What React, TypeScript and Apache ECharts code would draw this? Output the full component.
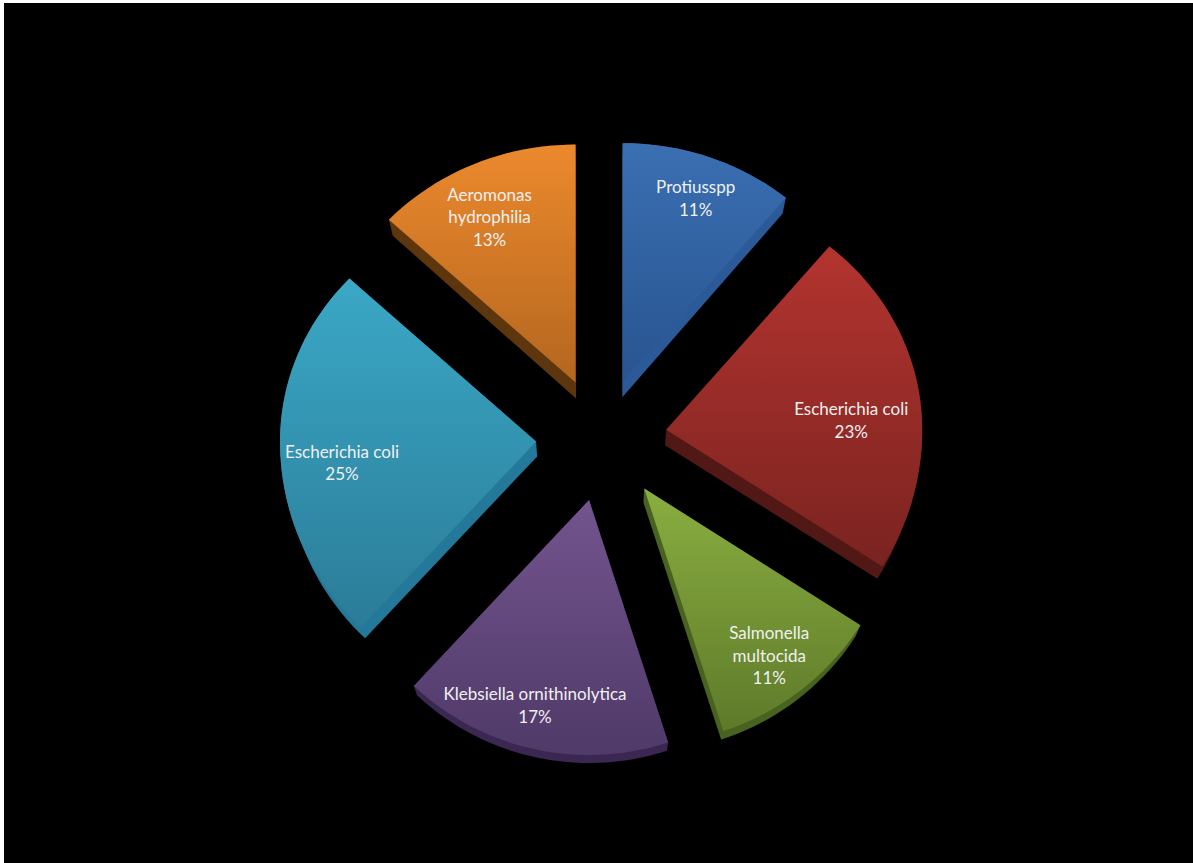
import React, { useEffect, useRef } from "react";
import * as echarts from "echarts";

// Species share of isolates, clockwise from twelve o'clock.
const categories = [
  "Protiusspp",
  "Escherichia coli",
  "Salmonella\nmultocida",
  "Klebsiella ornithinolytica",
  "Escherichia coli",
  "Aeromonas\nhydrophilia",
];
const shares = [11, 23, 11, 17, 25, 13];

// Face gradient (top, bottom) and side wall colour of each slice.
const faceTop = ["#3a6fb2", "#b3342f", "#8aae40", "#73548e", "#3aa8c6", "#ec892d"];
const faceBottom = ["#295490", "#7a2320", "#5e7a2a", "#4f3a68", "#2b7c98", "#b4661f"];
const wallColors = ["#2c5a98", "#521816", "#48621f", "#3a2752", "#24789a", "#5e360e"];

// Extra sideways pull of each slice beyond the common explosion.
const sliceShiftX = [0, 2, 4, 2, -1, 0];

// Centre of each label, measured from the slice's tip.
const labelOffsetX = [73, 185, 125, -54, -194, -86];
const labelOffsetY = [-183, -10, 167, 205, 21, -166];

// Pie projection: a tilted disc seen in perspective, with each slice pulled out along its bisector.
const CX = 601;
const CY = 439.5;
const EXPLODE_X = 64;
const EXPLODE_Y = 62;
const RX = 256;
const RY_FAR = 238;
const RY_NEAR = 255;
const ARC_STEP = 2;

type Pt = [number, number];

const total = shares.reduce((a, b) => a + b, 0);
const startFractions = shares.map((_, i) => shares.slice(0, i).reduce((a, b) => a + b, 0) / total);

const ryAt = (angle: number) => (Math.cos(angle) >= 0 ? RY_FAR : RY_NEAR);

// Thickness shrinks towards the viewer's side of the disc; walls lean slightly to the centre.
const extrude = ([x, y]: Pt): Pt => {
  const depth = y <= 400 ? 16 : 16 - (y - 400) * 0.0224;
  return [x + (CX - x) * 0.018, y + depth];
};

const convexHull = (points: Pt[]): Pt[] => {
  const sorted = [...points].sort((a, b) => a[0] - b[0] || a[1] - b[1]);
  const cross = (o: Pt, a: Pt, b: Pt) =>
    (a[0] - o[0]) * (b[1] - o[1]) - (a[1] - o[1]) * (b[0] - o[0]);
  const chain = (list: Pt[]) => {
    const out: Pt[] = [];
    for (const p of list) {
      while (out.length >= 2 && cross(out[out.length - 2], out[out.length - 1], p) <= 0) out.pop();
      out.push(p);
    }
    out.pop();
    return out;
  };
  return [...chain(sorted), ...chain([...sorted].reverse())];
};

const renderSlice = (params: any, api: any) => {
  const i = params.dataIndex;
  const value = api.value(1) as number;
  const start = startFractions[i] * Math.PI * 2;
  const sweep = (value / total) * Math.PI * 2;
  const mid = start + sweep / 2;
  const ax = CX + EXPLODE_X * Math.sin(mid) + sliceShiftX[i];
  const ay = CY - EXPLODE_Y * Math.cos(mid);

  const face: Pt[] = [[ax, ay]];
  const steps = Math.ceil((sweep * 180) / Math.PI / ARC_STEP);
  for (let s = 0; s <= steps; s++) {
    const t = start + (sweep * s) / steps;
    face.push([ax + RX * Math.sin(t), ay - ryAt(t) * Math.cos(t)]);
  }
  const wall = convexHull([...face, ...face.map(extrude)]);

  return {
    type: "group",
    children: [
      { type: "polygon", shape: { points: wall }, style: { fill: wallColors[i] } },
      {
        type: "polygon",
        shape: { points: face },
        style: {
          fill: new echarts.graphic.LinearGradient(0, 0, 0, 1, [
            { offset: 0, color: faceTop[i] },
            { offset: 1, color: faceBottom[i] },
          ]),
        },
      },
      {
        type: "text",
        style: {
          text: `${categories[i]}\n${value}%`,
          x: ax + labelOffsetX[i],
          y: ay + labelOffsetY[i],
          fill: "#f0f0f0",
          font: '17px Lato, "Open Sans", sans-serif',
          lineHeight: 22.5,
          align: "center",
          verticalAlign: "middle",
        },
      },
    ],
  };
};

export default function App() {
  const ref = useRef<HTMLDivElement>(null);

  useEffect(() => {
    document.body.style.margin = "0";
    const chart = echarts.init(ref.current!, undefined, { renderer: "svg" });
    chart.setOption({
      animation: false,
      backgroundColor: "#ffffff",
      graphic: [
        {
          type: "rect",
          z: -1,
          shape: { x: 4, y: 3, width: 1189, height: 860 },
          style: { fill: "#000000" },
        },
      ],
      series: [
        {
          type: "custom",
          coordinateSystem: "none",
          data: shares.map((v, i) => [i, v]),
          renderItem: renderSlice,
        },
      ],
    });
    return () => chart.dispose();
  }, []);

  return <div ref={ref} style={{ width: 1193, height: 863 }} />;
}
